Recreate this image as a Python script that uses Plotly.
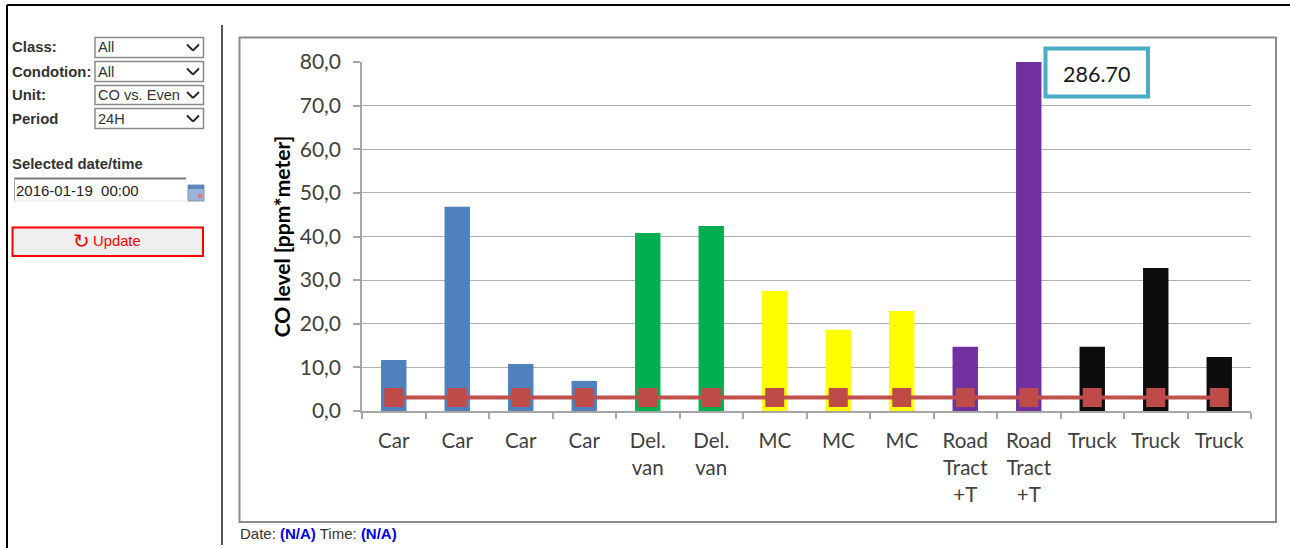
import plotly.graph_objects as go

W, H = 1290, 548

# ---------- data ----------
categories = ["Car", "Car", "Car", "Car", "Del.<br>van", "Del.<br>van", "MC", "MC", "MC",
              "Road<br>Tract<br>+T", "Road<br>Tract<br>+T", "Truck", "Truck", "Truck"]
co_values = [11.7, 46.8, 10.8, 6.9, 40.8, 42.4, 27.5, 18.6, 22.9, 14.7, 286.70, 14.7, 32.8, 12.4]
bar_colors = ["#4F81BD"] * 4 + ["#00B050"] * 2 + ["#FFFF00"] * 3 + ["#7030A0"] * 2 + ["#0D0D0D"] * 3
limit_values = [3.1] * 14
y_ticks = [0, 10, 20, 30, 40, 50, 60, 70, 80]
positions = list(range(len(categories)))
boundaries = [i - 0.5 for i in range(len(categories) + 1)]
overflow_label = f"{max(co_values):.2f}"

form_fields = [("Class:", "All", 37, 58), ("Condotion:", "All", 61, 82),
               ("Unit:", "CO vs. Even", 85, 105), ("Period", "24H", 108, 129)]

# ---------- helpers (page chrome in pixels) ----------
def px(x): return x / W
def py(y): return 1 - y / H

shapes, annotations = [], []

def rect(x0, y0, x1, y1, fill="rgba(0,0,0,0)", line=None, lw=1, layer="below"):
    shapes.append(dict(type="rect", xref="paper", yref="paper", x0=px(x0), x1=px(x1), y0=py(y0), y1=py(y1),
                       fillcolor=fill, line=dict(color=line or "rgba(0,0,0,0)", width=lw if line else 0), layer=layer))

def seg(x0, y0, x1, y1, color, lw=1, layer="below"):
    shapes.append(dict(type="line", xref="paper", yref="paper", x0=px(x0), x1=px(x1), y0=py(y0), y1=py(y1),
                       line=dict(color=color, width=lw), layer=layer))

def text(x, y, s, size=15, color="#333333", bold=False, anchor="left", family="Liberation Sans"):
    annotations.append(dict(xref="paper", yref="paper", x=px(x), y=py(y), text=f"<b>{s}</b>" if bold else s,
                            showarrow=False, xanchor=anchor, yanchor="middle",
                            font=dict(family=family, size=size, color=color), borderpad=0))

# page frame and divider
seg(7, 5, W, 5, "#000000", 2)
seg(7, 5, 7, H, "#000000", 2)
seg(222, 25, 222, 545, "#555555", 2)

# chart frame
rect(239.5, 37.5, 1276, 522, line="#8C8C8C", lw=2)

# form
for label, val, y0, y1 in form_fields:
    text(10.5, (y0 + y1) / 2, label, 14.9, "#333333", True)
    rect(95, y0 + .5, 203.5, y1 - .5, fill="#FFFFFF", line="#8A8A8A", lw=1.5)
    text(97, (y0 + y1) / 2, val, 14.6, "#333333")
    cx, cy = 193, (y0 + y1) / 2
    seg(cx - 6, cy - 3, cx, cy + 3, "#222222", 1.8)
    seg(cx, cy + 3, cx + 6, cy - 3, "#222222", 1.8)

text(11, 164, "Selected date/time", 14.9, "#333333", True)
seg(14, 178.5, 186, 178.5, "#777777", 2)
seg(14.5, 178, 14.5, 201, "#AAAAAA", 1)
seg(14, 201, 186, 201, "#E6E6E6", 1)
text(15, 191, "2016-01-19&nbsp;&nbsp;00:00", 15, "#222222")
rect(188, 185, 204, 201, fill="#9DB4D8", line="#7F93B5", lw=1)
rect(188, 185, 204, 189, fill="#5F86BD")
rect(198, 194, 202, 198, fill="#D9826B")

rect(12.5, 227.5, 203, 256, fill="#EFEFEF", line="#FF0000", lw=2)
text(81, 241, "↻", 20, "#FF0000", family="DejaVu Sans", anchor="center")
text(92, 241, "Update", 14.8, "#FF0000")

# date/time line
annotations.append(dict(xref="paper", yref="paper", x=px(237.5), y=py(533.5), showarrow=False, xanchor="left", yanchor="middle",
                        text='Date: <b><span style="color:#0000E6">(N/A)</span></b> Time: <b><span style="color:#0000E6">(N/A)</span></b>',
                        font=dict(family="Liberation Sans", size=15, color="#333333")))

# overflow call-out
rect(1045.5, 48.5, 1148, 96.5, fill="#FFFFFF", line="#4BACC6", lw=4, layer="above")
text(1096.5, 74, overflow_label, 21.5, "#1A1A1A", anchor="center", family="Lato")

# ---------- figure ----------
fig = go.Figure()
fig.add_bar(x=positions, y=co_values, width=0.40, marker=dict(color=bar_colors, line=dict(width=0)))
fig.add_scatter(x=positions, y=limit_values, mode="lines+markers",
                line=dict(color="#C0504D", width=4),
                marker=dict(symbol="square", size=19, color="#BE4B48"))

fig.update_layout(
    width=W, height=H, margin=dict(l=0, r=0, t=0, b=0), autosize=False,
    paper_bgcolor="#FFFFFF", plot_bgcolor="rgba(0,0,0,0)", showlegend=False,
    separators=",.", shapes=shapes, annotations=annotations,
    font=dict(family="Lato", size=20.5, color="#404040"),
    xaxis=dict(domain=[px(362), px(1251)], range=[-0.5, 13.5], tickvals=positions, ticktext=categories,
               automargin=False,
               ticks="", ticklen=0, showgrid=False, zeroline=False, showline=True, linecolor="#A6A6A6", linewidth=1.5,
               tickangle=0, ticklabelstandoff=11,
               minor=dict(tickvals=boundaries, ticks="outside", ticklen=6, tickcolor="#A6A6A6", tickwidth=1.5, showgrid=False),
               tickfont=dict(size=20.5, family="Lato", color="#404040")),
    yaxis=dict(domain=[py(411), py(62)], range=[0, 80], tickvals=y_ticks, tickformat=".1f",
               automargin=False, ticklabelstandoff=8,
               ticks="outside", ticklen=7, tickcolor="#A6A6A6", tickwidth=1.5, gridcolor="#B0B0B0", gridwidth=1,
               showline=True, linecolor="#A6A6A6", linewidth=1.5, zeroline=False,
               tickfont=dict(size=21, family="Lato", color="#404040"),
               title=dict(text="<b>CO level [ppm*meter]</b>", standoff=3,
                          font=dict(size=21, family="Lato", color="#000000"))),
)

fig.write_html("out.html", post_script="document.body.style.margin='0';document.body.style.overflow='hidden';",
               config=dict(displayModeBar=False))
